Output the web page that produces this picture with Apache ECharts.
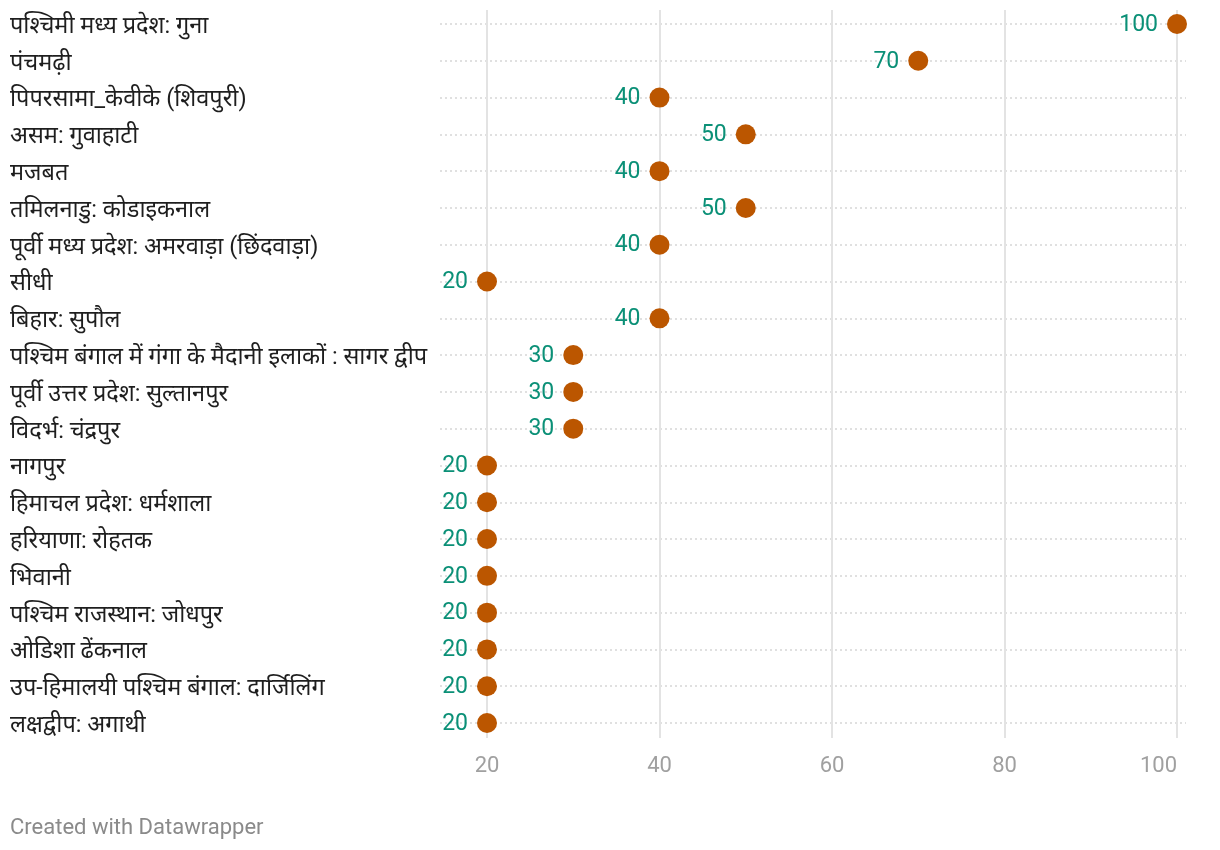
<!DOCTYPE html>
<html>
<head>
<meta charset="utf-8">
<script src="https://cdn.jsdelivr.net/npm/echarts@6/dist/echarts.min.js"></script>
<style>
html,body{margin:0;padding:0;background:#fff;}
#c{width:1220px;height:850px;}
</style>
</head>
<body>
<div id="c"></div>
<script>
const categories = [
  'पश्चिमी मध्य प्रदेश: गुना',
  'पंचमढ़ी',
  'पिपरसामा_केवीके (शिवपुरी)',
  'असम: गुवाहाटी',
  'मजबत',
  'तमिलनाडु: कोडाइकनाल',
  'पूर्वी मध्य प्रदेश: अमरवाड़ा (छिंदवाड़ा)',
  'सीधी',
  'बिहार: सुपौल',
  'पश्चिम बंगाल में गंगा के मैदानी इलाकों : सागर द्वीप',
  'पूर्वी उत्तर प्रदेश: सुल्तानपुर',
  'विदर्भ: चंद्रपुर',
  'नागपुर',
  'हिमाचल प्रदेश: धर्मशाला',
  'हरियाणा: रोहतक',
  'भिवानी',
  'पश्चिम राजस्थान: जोधपुर',
  'ओडिशा ढेंकनाल',
  'उप-हिमालयी पश्चिम बंगाल: दार्जिलिंग',
  'लक्षद्वीप: अगाथी'
];
const values = [100, 70, 40, 50, 40, 50, 40, 20, 40, 30, 30, 30, 20, 20, 20, 20, 20, 20, 20, 20];
const xTicks = [20, 40, 60, 80, 100];

const FONT = "Roboto, 'Noto Sans', 'DejaVu Sans', sans-serif";
const chart = echarts.init(document.getElementById('c'));
chart.setOption({
  backgroundColor: '#ffffff',
  animation: false,
  textStyle: { fontFamily: FONT },
  grid: [
    { left: 487, right: 43, top: 24, bottom: 127 },
    { left: 440, right: 34, top: 24, bottom: 127 },
    { left: 487, right: 43, top: 10, bottom: 112 },
    { left: 487, right: 43, top: 27, bottom: 124 }
  ],
  xAxis: [
    { gridIndex: 0, type: 'value', min: xTicks[0], max: xTicks[xTicks.length - 1], show: false },
    { gridIndex: 1, type: 'value', min: 0, max: 1, show: false },
    { gridIndex: 2, type: 'value', min: xTicks[0], max: xTicks[xTicks.length - 1], interval: 20,
      axisLine: { show: false }, axisTick: { show: false },
      axisLabel: { color: '#a0a0a0', fontSize: 22, margin: 17, fontFamily: FONT, alignMaxLabel: 'right' },
      splitLine: { show: true, lineStyle: { color: '#e3e3e3', width: 2 } } },
    { gridIndex: 3, type: 'value', min: 0, max: 1, show: false }
  ],
  yAxis: [
    { gridIndex: 0, type: 'category', data: categories, inverse: true, boundaryGap: false,
      axisLine: { show: false }, axisTick: { show: false }, splitLine: { show: false },
      axisLabel: { show: false } },
    { gridIndex: 1, type: 'category', data: categories, inverse: true, boundaryGap: false,
      axisLine: { show: false }, axisTick: { show: false }, axisLabel: { show: false },
      splitLine: { show: true, interval: 0, lineStyle: { color: '#d6d6d6', type: [2, 3], width: 1.5 } } },
    { gridIndex: 2, type: 'value', show: false, min: 0, max: 1 },
    { gridIndex: 3, type: 'category', data: categories, inverse: true, boundaryGap: false,
      axisLine: { show: false }, axisTick: { show: false }, splitLine: { show: false },
      axisLabel: { color: '#1e1e1e', fontSize: 23.5, align: 'left', margin: 477, fontFamily: FONT, interval: 0 } }
  ],
  series: [{
    type: 'scatter',
    xAxisIndex: 0,
    yAxisIndex: 0,
    data: values,
    symbol: 'circle',
    symbolSize: 20,
    itemStyle: { color: '#bb5600', opacity: 1 },
    label: {
      show: true, position: 'left', distance: 9, offset: [0, 1],
      color: '#0b9077', fontSize: 23, fontFamily: FONT
    },
    z: 10
  }],
  graphic: [{
    type: 'text', left: 10, top: 817,
    style: { text: 'Created with Datawrapper', fill: '#8a8a8a', fontSize: 22, fontFamily: FONT }
  }]
});
</script>
</body>
</html>
